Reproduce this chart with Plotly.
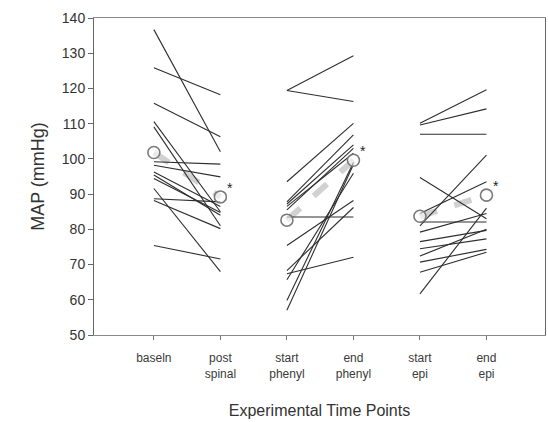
import plotly.graph_objects as go

# Time points (x positions 0..5)
time_labels = ["baseln", "post<br>spinal", "start<br>phenyl", "end<br>phenyl", "start<br>epi", "end<br>epi"]

# Individual subjects: baseline -> post spinal
baseln = [136.7, 125.9, 115.8, 110.6, 109.1, 99.2, 98.2, 96.3, 95.4, 94.4, 91.6, 88.7, 88.2, 75.4]
post_spinal = [102.0, 118.2, 106.3, 85.0, 81.0, 98.5, 94.9, 86.5, 84.0, 84.8, 68.0, 87.8, 80.2, 71.6]

# Start phenylephrine -> end phenylephrine
start_phenyl = [119.4, 119.4, 93.5, 87.8, 87.2, 86.5, 85.5, 83.5, 75.4, 68.3, 67.4, 65.7, 59.8, 57.0]
end_phenyl = [129.3, 116.3, 110.1, 106.8, 104.0, 101.6, 103.0, 83.5, 88.2, 86.2, 72.1, 95.9, 99.0, 98.4]

# Start epinephrine -> end epinephrine
start_epi = [110.1, 109.6, 107.0, 94.7, 81.0, 61.7, 84.5, 82.1, 79.2, 76.5, 74.5, 72.4, 70.7, 67.8]
end_epi = [119.6, 114.2, 107.0, 83.0, 101.1, 86.0, 93.5, 82.1, 84.5, 79.7, 77.3, 80.0, 74.3, 73.5]

# Group means at each time point, and which ones are marked significant
group_means = [101.8, 89.2, 82.6, 99.6, 83.7, 89.7]
significant = [False, True, False, True, False, True]

pairs = [(0, baseln, post_spinal), (2, start_phenyl, end_phenyl), (4, start_epi, end_epi)]

fig = go.Figure()

# Mean trend bands between paired time points
for x0, _, _ in pairs:
    fig.add_trace(go.Scatter(
        x=[x0, x0 + 1], y=[group_means[x0], group_means[x0 + 1]],
        mode="lines", line=dict(color="rgba(190,190,190,0.7)", width=6, dash="dash"),
        hoverinfo="skip", showlegend=False))

# Subject lines
for x0, a, b in pairs:
    xs, ys = [], []
    for va, vb in zip(a, b):
        xs += [x0, x0 + 1, None]
        ys += [va, vb, None]
    fig.add_trace(go.Scatter(
        x=xs, y=ys, mode="lines",
        line=dict(color="#2e2e2e", width=1.1),
        showlegend=False))

# Mean markers
fig.add_trace(go.Scatter(
    x=list(range(6)), y=group_means, mode="markers",
    marker=dict(size=12, color="rgba(255,255,255,0.55)",
                line=dict(color="#7a7a7a", width=1.6)),
    showlegend=False))

for i, (m, sig) in enumerate(zip(group_means, significant)):
    if sig:
        fig.add_annotation(x=i, y=m, text="*", showarrow=False,
                           xshift=10, yshift=9,
                           font=dict(family="Liberation Sans, Arial", size=14, color="#222"))

fig.update_layout(
    width=548, height=422,
    margin=dict(l=94, r=3, t=18, b=87),
    paper_bgcolor="white", plot_bgcolor="white",
    font=dict(family="Liberation Sans, Arial, sans-serif", color="#333"),
    xaxis=dict(
        range=[-0.9, 5.88], tickvals=list(range(6)), ticktext=time_labels,
        showgrid=False, zeroline=False,
        showline=True, linecolor="#8a8a8a", linewidth=1, mirror=True,
        ticks="outside", ticklen=4, tickcolor="#777",
        ticklabelstandoff=8,
        tickfont=dict(size=12, color="#3a3a3a"),
        title=dict(text="Experimental Time Points", font=dict(size=16, color="#333"), standoff=24),
    ),
    yaxis=dict(
        range=[50, 140], tickvals=list(range(50, 141, 10)),
        showgrid=False, zeroline=False,
        showline=True, linecolor="#666", linewidth=1, mirror=True,
        ticks="outside", ticklen=5, tickcolor="#666",
        tickfont=dict(size=14, color="#333"),
        title=dict(text="MAP (mmHg)", font=dict(size=18, color="#333"), standoff=12),
    ),
)

fig.write_html("out.html")
